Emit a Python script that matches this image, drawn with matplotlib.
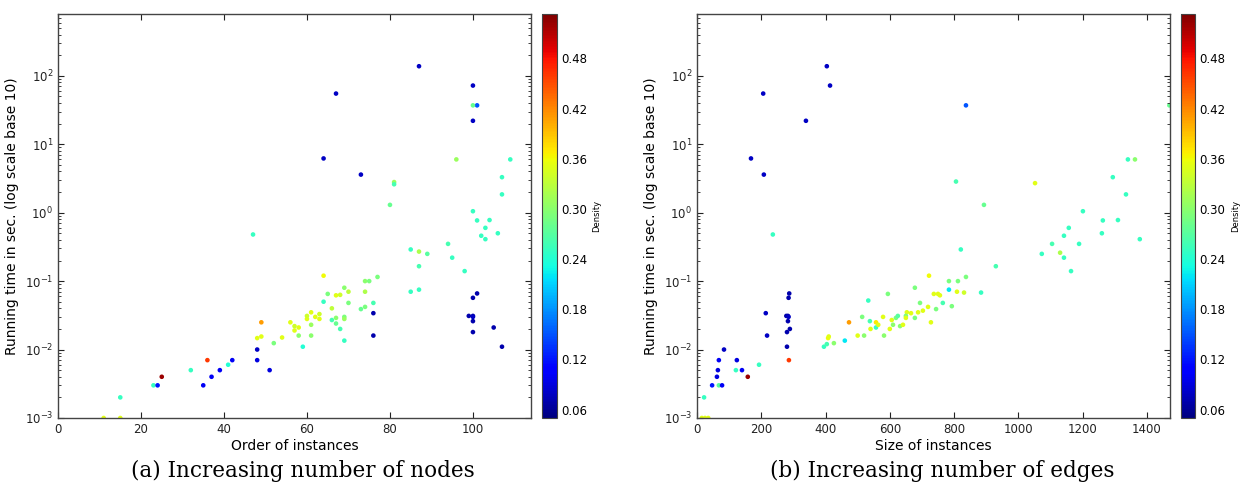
import matplotlib
matplotlib.use("Agg")
import matplotlib.pyplot as plt
import numpy as np

# (a) order of instances vs running time, coloured by density
node_order = [11, 15, 15, 23, 24, 25, 32, 35, 36, 37, 39, 41, 42, 47, 48, 48,
              48, 49, 49, 51, 52, 54, 56, 57, 57, 58, 58, 59, 60, 60, 61, 61,
              61, 62, 63, 63, 64, 64, 65, 66, 67, 68, 66, 67, 67, 68, 69, 70,
              70, 69, 69, 69, 73, 74, 74, 74, 75, 77, 76, 76, 76, 85, 87, 89,
              87, 85, 87, 94, 95, 98, 102, 103, 106, 100, 101, 99, 100, 100,
              100, 100, 105, 107, 64, 67, 73, 87, 100, 100, 101, 100, 96, 109,
              107, 107, 81, 81, 80, 100, 101, 104, 103]
node_time = [0.001, 0.001, 0.002, 0.003, 0.003, 0.004, 0.005, 0.003, 0.007,
             0.004, 0.005, 0.006, 0.007, 0.48, 0.010, 0.007, 0.0147, 0.0155,
             0.025, 0.005, 0.0124, 0.015, 0.025, 0.019, 0.022, 0.021, 0.016,
             0.011, 0.028, 0.031, 0.023, 0.016, 0.035, 0.030, 0.028, 0.033,
             0.12, 0.05, 0.065, 0.040, 0.062, 0.063, 0.027, 0.024, 0.029,
             0.020, 0.080, 0.070, 0.048, 0.030, 0.028, 0.0135, 0.039, 0.042,
             0.070, 0.10, 0.10, 0.115, 0.048, 0.034, 0.016, 0.29, 0.27, 0.25,
             0.165, 0.07, 0.075, 0.35, 0.22, 0.14, 0.46, 0.41, 0.50, 0.057,
             0.066, 0.031, 0.031, 0.030, 0.026, 0.018, 0.021, 0.011, 6.2, 55,
             3.6, 138, 72, 22, 37, 37, 6.0, 6.0, 3.3, 1.85, 2.8, 2.6, 1.3,
             1.05, 0.77, 0.78, 0.60]
node_density = [0.35, 0.35, 0.25, 0.25, 0.12, 0.52, 0.25, 0.10, 0.46, 0.10,
                0.10, 0.24, 0.10, 0.25, 0.08, 0.09, 0.35, 0.35, 0.41, 0.09,
                0.29, 0.35, 0.35, 0.35, 0.34, 0.35, 0.30, 0.24, 0.35, 0.34,
                0.31, 0.30, 0.35, 0.35, 0.35, 0.34, 0.36, 0.25, 0.29, 0.33,
                0.35, 0.34, 0.26, 0.28, 0.30, 0.26, 0.30, 0.33, 0.29, 0.29,
                0.31, 0.25, 0.28, 0.29, 0.32, 0.30, 0.29, 0.29, 0.26, 0.07,
                0.07, 0.25, 0.32, 0.27, 0.26, 0.25, 0.25, 0.26, 0.25, 0.25,
                0.25, 0.25, 0.25, 0.07, 0.07, 0.07, 0.07, 0.08, 0.07, 0.07,
                0.07, 0.07, 0.08, 0.08, 0.08, 0.08, 0.08, 0.08, 0.15, 0.28,
                0.31, 0.25, 0.25, 0.25, 0.31, 0.26, 0.28, 0.25, 0.25, 0.25,
                0.25]

# (b) size of instances vs running time, coloured by density
edge_size = [15, 25, 35, 22, 47, 68, 78, 62, 65, 68, 84, 124, 121, 140, 158,
             193, 214, 218, 280, 286, 278, 283, 285, 283, 280, 289, 285, 287,
             236, 168, 206, 208, 339, 404, 414, 837, 1470, 1052, 806, 893,
             1341, 1363, 1294, 1335, 1201, 1263, 1310, 1157, 1142, 1260, 1378,
             1105, 1073, 1130, 1142, 1189, 1164, 821, 930, 784, 812, 837, 784,
             809, 831, 884, 765, 793, 756, 395, 408, 410, 426, 404, 460, 473,
             500, 514, 520, 533, 538, 540, 557, 557, 564, 579, 582, 594, 600,
             606, 610, 619, 625, 632, 641, 653, 650, 650, 666, 678, 678, 688,
             694, 703, 719, 722, 728, 737, 750, 744]
edge_time = [0.001, 0.001, 0.001, 0.002, 0.003, 0.003, 0.003, 0.004, 0.005,
             0.007, 0.010, 0.007, 0.005, 0.005, 0.004, 0.006, 0.034, 0.016,
             0.011, 0.007, 0.031, 0.031, 0.030, 0.026, 0.018, 0.020, 0.057,
             0.066, 0.48, 6.2, 55, 3.6, 22, 138, 72, 37, 37, 2.7, 2.85, 1.3,
             6.0, 6.0, 3.3, 1.85, 1.05, 0.77, 0.78, 0.60, 0.46, 0.50, 0.41,
             0.35, 0.25, 0.26, 0.22, 0.35, 0.14, 0.29, 0.165, 0.10, 0.10,
             0.115, 0.075, 0.07, 0.068, 0.068, 0.048, 0.043, 0.062, 0.011,
             0.0147, 0.0155, 0.0124, 0.012, 0.0135, 0.025, 0.016, 0.030,
             0.016, 0.052, 0.026, 0.020, 0.025, 0.021, 0.023, 0.030, 0.016,
             0.065, 0.020, 0.027, 0.023, 0.029, 0.031, 0.022, 0.023, 0.035,
             0.031, 0.029, 0.034, 0.029, 0.080, 0.035, 0.048, 0.037, 0.042,
             0.12, 0.025, 0.065, 0.065, 0.039]
edge_density = [0.35, 0.35, 0.35, 0.25, 0.12, 0.27, 0.10, 0.09, 0.09, 0.10,
                0.08, 0.09, 0.25, 0.10, 0.52, 0.25, 0.08, 0.08, 0.07, 0.46,
                0.07, 0.07, 0.08, 0.07, 0.07, 0.07, 0.07, 0.07, 0.25, 0.08,
                0.08, 0.08, 0.08, 0.08, 0.08, 0.15, 0.28, 0.35, 0.26, 0.28,
                0.25, 0.30, 0.25, 0.25, 0.25, 0.25, 0.25, 0.25, 0.25, 0.25,
                0.25, 0.26, 0.25, 0.32, 0.25, 0.25, 0.25, 0.25, 0.26, 0.29,
                0.29, 0.29, 0.22, 0.35, 0.34, 0.25, 0.26, 0.29, 0.35, 0.25,
                0.36, 0.35, 0.30, 0.26, 0.22, 0.41, 0.35, 0.29, 0.30, 0.25,
                0.26, 0.35, 0.37, 0.25, 0.35, 0.35, 0.30, 0.29, 0.35, 0.35,
                0.30, 0.29, 0.27, 0.30, 0.35, 0.35, 0.29, 0.35, 0.35, 0.29,
                0.29, 0.35, 0.29, 0.35, 0.35, 0.36, 0.35, 0.35, 0.35, 0.29]

cbar_ticks = [0.06, 0.12, 0.18, 0.24, 0.30, 0.36, 0.42, 0.48]
captions = ["(a) Increasing number of nodes", "(b) Increasing number of edges"]

VMIN, VMAX = 0.05, 0.533
EDGE = "#444444"


def draw_panel(fig, ax_rect, cb_rect, x, y, d, xlim, xlabel):
    """Scatter one panel on a log y axis with its own density colorbar."""
    ax = fig.add_axes(ax_rect)
    sc = ax.scatter(x, y, c=d, cmap="jet", vmin=VMIN, vmax=VMAX,
                    s=11, edgecolors="none", clip_on=True)
    ax.set_yscale("log")
    ax.set_ylim(1e-3, 800)
    ax.set_xlim(*xlim)
    ax.set_xlabel(xlabel, fontsize=10, labelpad=2)
    ax.set_ylabel("Running time in sec. (log scale base 10)", fontsize=10,
                  labelpad=4)
    ax.tick_params(which="both", direction="in", top=True, right=True,
                   labelsize=8.5, colors="#222222")
    ax.tick_params(which="major", length=4)
    ax.tick_params(which="minor", length=2)
    for sp in ax.spines.values():
        sp.set_color(EDGE)
        sp.set_linewidth(1.0)

    cax = fig.add_axes(cb_rect)
    cb = fig.colorbar(sc, cax=cax, ticks=cbar_ticks)
    cb.ax.set_yticklabels([f"{t:.2f}" for t in cbar_ticks])
    cb.ax.tick_params(labelsize=8.5, length=0, pad=3)
    cb.set_label("Density", fontsize=6, labelpad=4)
    cb.outline.set_edgecolor(EDGE)
    return ax


fig = plt.figure(figsize=(12.48, 4.84), dpi=100)

draw_panel(fig, [0.0465, 0.1364, 0.379, 0.8347], [0.4343, 0.1364, 0.0118, 0.8347],
           node_order, node_time, node_density, (0, 114), "Order of instances")
draw_panel(fig, [0.5585, 0.1364, 0.379, 0.8347], [0.9463, 0.1364, 0.0114, 0.8347],
           edge_size, edge_time, edge_density, (0, 1472), "Size of instances")

# captions sit at the very bottom edge, as in the source figure
fig.text(0.243, 0.004, captions[0], ha="center", va="bottom",
         fontsize=15.5, family="DejaVu Serif")
fig.text(0.755, 0.004, captions[1], ha="center", va="bottom",
         fontsize=15.5, family="DejaVu Serif")

fig.savefig("out.png", dpi=100)
